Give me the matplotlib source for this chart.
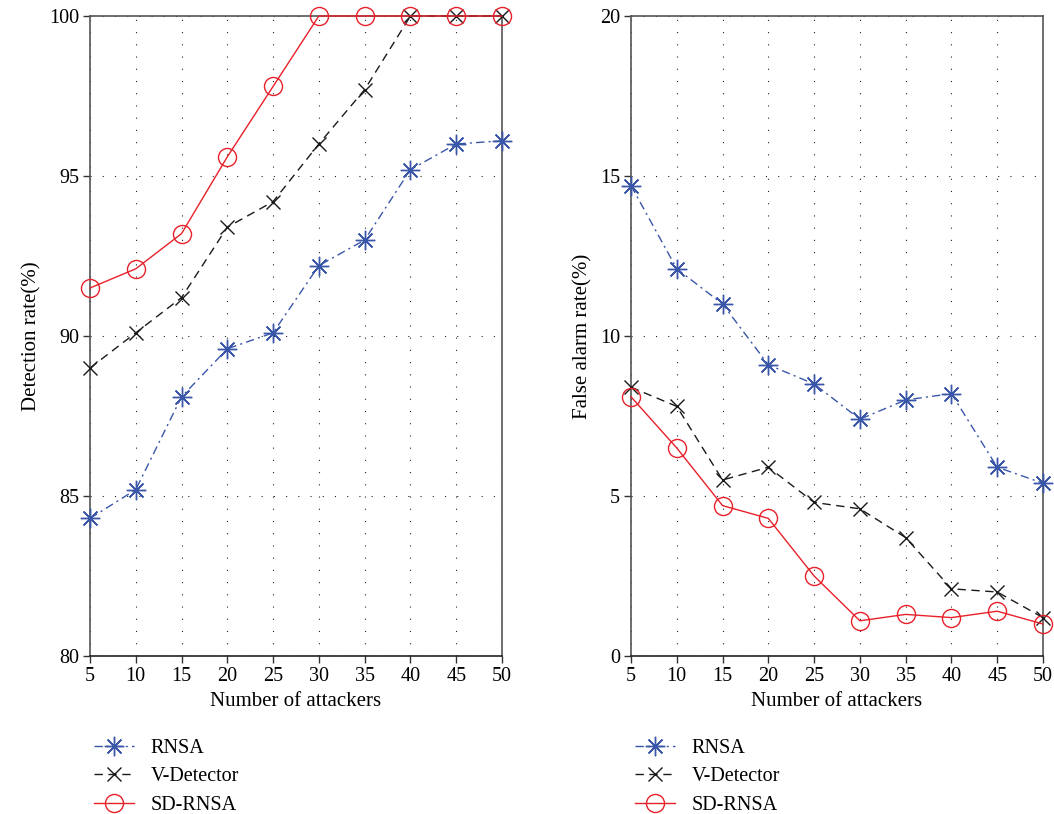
import matplotlib
matplotlib.use("Agg")
import matplotlib.pyplot as plt

plt.rcParams['font.family'] = ['Liberation Serif', 'DejaVu Serif']
plt.rcParams['font.size'] = 14.5

# Daten
attackers = [5, 10, 15, 20, 25, 30, 35, 40, 45, 50]
labels = ["RNSA", "V-Detector", "SD-RNSA"]

det_rnsa = [84.3, 85.2, 88.1, 89.6, 90.1, 92.2, 93.0, 95.2, 96.0, 96.1]
det_vdet = [89.0, 90.1, 91.2, 93.4, 94.2, 96.0, 97.7, 100, 100, 100]
det_sd = [91.5, 92.1, 93.2, 95.6, 97.8, 100, 100, 100, 100, 100]

far_rnsa = [14.7, 12.1, 11.0, 9.1, 8.5, 7.4, 8.0, 8.2, 5.9, 5.4]
far_vdet = [8.4, 7.8, 5.5, 5.9, 4.8, 4.6, 3.7, 2.1, 2.0, 1.2]
far_sd = [8.1, 6.5, 4.7, 4.3, 2.5, 1.1, 1.3, 1.2, 1.4, 1.0]

styles = [
    dict(color='#3a56a8', linestyle=(0, (6, 3, 1.5, 3)), marker=(8, 2, 0), markersize=14,
         markeredgewidth=1.0, linewidth=1.0),
    dict(color='#1a1a1a', linestyle=(0, (6, 4)), marker='x', markersize=10,
         markeredgewidth=1.0, linewidth=1.0),
    dict(color='#e8202a', linestyle='-', marker='o', markersize=13, markerfacecolor='none',
         markeredgewidth=1.0, linewidth=1.0),
]

fig = plt.figure(figsize=(10.54, 8.14), dpi=100)
W, H = 1054, 814
ax1 = fig.add_axes([90 / W, 1 - 656 / H, 412 / W, 640 / H])
ax2 = fig.add_axes([631 / W, 1 - 656 / H, 412 / W, 640 / H])


def draw(ax, series, ylim, yticks, ylabel):
    lines = []
    for s, st, lab in zip(series, styles, labels):
        ln, = ax.plot(attackers, s, label=lab, clip_on=False, zorder=3, **st)
        lines.append(ln)
    ax.set_xlim(5, 50)
    ax.set_ylim(*ylim)
    ax.set_xticks(attackers)
    ax.set_yticks(yticks)
    ax.grid(True, linestyle=(0, (1, 10)), color='#222222', linewidth=0.8)
    ax.tick_params(direction='out', length=5, width=1, color='#333333', pad=3)
    for side in ['left', 'right', 'top']:
        ax.spines[side].set_color('#555555')
        ax.spines[side].set_linewidth(1.2)
    ax.spines['bottom'].set_color('#222222')
    ax.spines['bottom'].set_linewidth(1.2)
    ax.set_xlabel("Number of attackers", fontsize=15, labelpad=4)
    ax.set_ylabel(ylabel, fontsize=15, labelpad=5)
    ax.legend(lines, labels, loc='upper left', bbox_to_anchor=(0.01, -0.13),
              frameon=False, fontsize=14.5, handlelength=2.0, labelspacing=0.45,
              handletextpad=0.8, borderaxespad=0, borderpad=0)


draw(ax1, [det_rnsa, det_vdet, det_sd], (80, 100), [80, 85, 90, 95, 100], "Detection rate(%)")
draw(ax2, [far_rnsa, far_vdet, far_sd], (0, 20), [0, 5, 10, 15, 20], "False alarm rate(%)")

fig.savefig("out.png", dpi=100)
